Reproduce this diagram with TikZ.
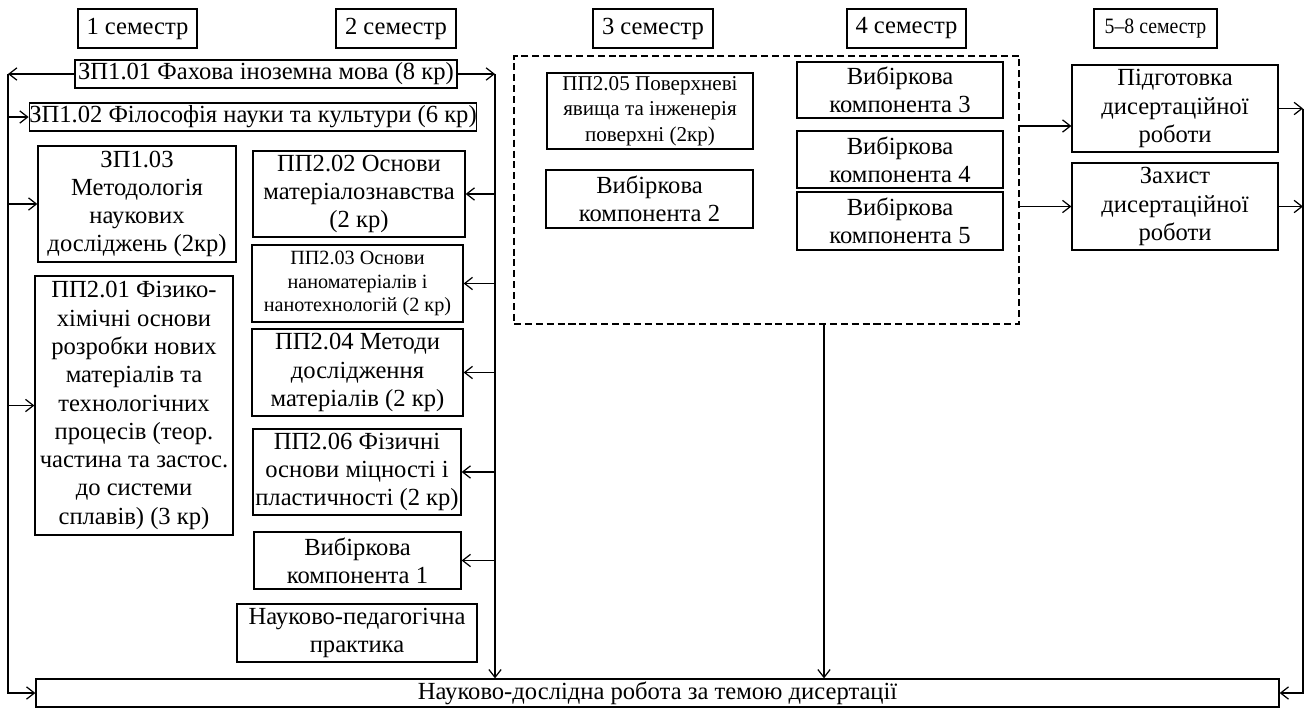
\documentclass[tikz,border=0pt]{standalone}
\usepackage{fontspec}
\setmainfont{Liberation Serif}
\usetikzlibrary{arrows.meta, positioning}

\begin{document}
\begin{tikzpicture}[
  x=0.02cm, y=-0.02cm,
  every node/.style={font=\fontsize{14}{16.1}\selectfont},
  wh/.style 2 args={minimum width=#1*0.02cm, minimum height=#2*0.02cm},
  sembox/.style={rectangle, draw, line width=0.7pt, inner sep=0pt, align=center},
  course/.style={rectangle, draw, line width=0.7pt, inner sep=0pt, align=center},
  smallcourse/.style={course, font=\fontsize{11.5}{13.2}\selectfont},
  dashframe/.style={rectangle, draw, dash pattern=on 4pt off 2.2pt, line width=0.6pt, inner sep=0pt},
  arr/.style={-{Straight Barb[length=4.5pt, width=7pt]}, line width=0.7pt}
]
\useasboundingbox (0,0) rectangle (1304,710);

% ===== SEMESTERS =====
\node[sembox, wh={119}{39}] (sem1) at (137.5,28.5) {1 семестр};
\node[sembox, wh={120}{39}] (sem2) at (396,28.5) {2 семестр};
\node[sembox, wh={120}{39}] (sem3) at (653,28.5) {3 семестр};
\node[sembox, wh={119}{39}] (sem4) at (906.5,28.5) {4 семестр};
\node[sembox, wh={123}{39}, font={\fontsize{12.5}{14.4}\selectfont\addfontfeature{FakeStretch=0.9}}] (sem58) at (1155.5,28.5) {5–8 семестр};

% ===== SEMESTERS 1-2 =====
\node[course, wh={382}{28}] (zp101) at (266,74) {ЗП1.01 Фахова іноземна мова (8 кр)};
\node[course, wh={446}{28}] (zp102) at (253,117) {ЗП1.02 Філософія науки та культури (6 кр)};
\node[course, wh={198}{116}] (zp103) at (137,204) {ЗП1.03\\Методологія\\наукових\\досліджень (2кр)};
\node[course, wh={198}{259}] (pp201) at (134,405.5) {ПП2.01 Фізико-\\хімічні основи\\розробки нових\\матеріалів та\\технологічних\\процесів (теор.\\частина та застос.\\до системи\\сплавів) (3 кр)};
\node[course, wh={212}{86}] (pp202) at (359,194) {ПП2.02 Основи\\матеріалознавства\\(2 кр)};
\node[smallcourse, wh={211}{77}] (pp203) at (357.5,283.5) {ПП2.03 Основи\\наноматеріалів і\\нанотехнологій (2 кр)};
\node[course, wh={211}{87}] (pp204) at (357.5,372.5) {ПП2.04 Методи\\дослідження\\матеріалів (2 кр)};
\node[course, wh={208}{86}] (pp206) at (357,472) {ПП2.06 Фізичні\\основи міцності і\\пластичності (2 кр)};
\node[course, wh={207}{57}] (vk1) at (357.5,560.5) {Вибіркова\\компонента 1};
\node[course, wh={240}{58}] (practice) at (357,633) {Науково-педагогічна\\практика};

% ===== SEMESTERS 3-4 =====
\node[dashframe, wh={505}{268}] (opt) at (766.5,190) {};
\node[course, wh={206}{76}, font=\fontsize{12}{14.6}\selectfont] (pp205) at (650,111) {ПП2.05 Поверхневі\\явища та інженерія\\поверхні (2кр)};
\node[course, wh={207}{58}] (vk2) at (649.5,199) {Вибіркова\\компонента 2};
\node[course, wh={206}{56}] (vk3) at (900,90) {Вибіркова\\компонента 3};
\node[course, wh={206}{57}] (vk4) at (900,159.5) {Вибіркова\\компонента 4};
\node[course, wh={206}{58}] (vk5) at (900,221) {Вибіркова\\компонента 5};

% ===== SEMESTERS 5-8 =====
\node[course, wh={206}{87}] (prep) at (1175,108.5) {Підготовка\\дисертаційної\\роботи};
\node[course, wh={206}{87}] (defence) at (1175,206.5) {Захист\\дисертаційної\\роботи};

% ===== RESEARCH =====
\node[course, wh={1243}{28}] (research) at (657.5,693) {Науково-дослідна робота за темою дисертації};

% ===== CONNECTORS =====
\coordinate (lt) at (8,74);
\coordinate (rt) at (495,74);
\coordinate (od) at (824,324);
\coordinate (o1) at (1019,126);
\coordinate (rr) at (1303,693);

% left bus
\draw[arr] (zp101.west) -- (lt);
\draw[arr] (lt) -- (lt |- research) -- (research.west);
\foreach \n in {zp102, zp103, pp201}
  \draw[arr] (lt |- \n) -- (\n.west);

% right bus
\draw[arr] (zp101.east) -- (rt);
\draw[arr] (rt) -- (rt |- research.north);
\foreach \n in {pp202, pp203, pp204, pp206, vk1}
  \draw[arr] (rt |- \n) -- (\n.east);

% optional block
\draw[arr] (od) -- (od |- research.north);
\draw[arr] (o1) -- (o1 -| prep.west);
\draw[arr] (opt.east |- defence) -- (defence.west);

% right return
\draw[arr] (prep.east) -- (prep.east -| rr);
\draw[arr] (defence.east) -- (defence.east -| rr);
\draw[arr] (prep.east -| rr) -- (rr) -- (research.east);
\end{tikzpicture}
\end{document}
